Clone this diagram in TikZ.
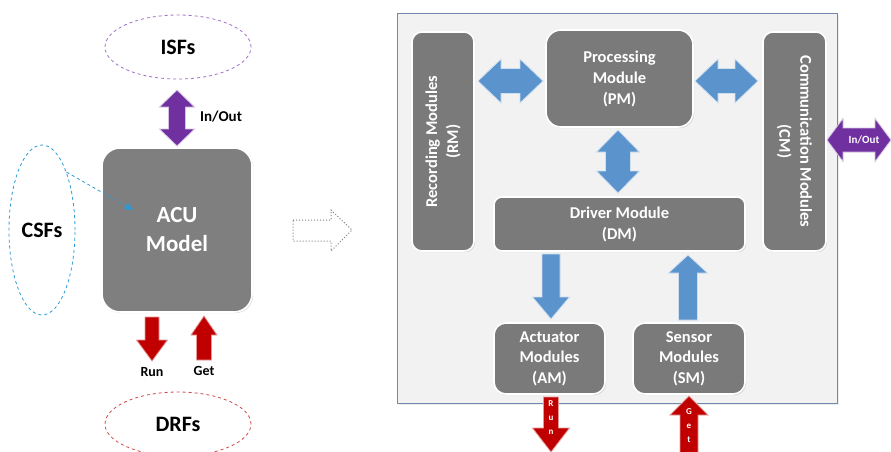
\documentclass[tikz,border=0pt]{standalone}
\usepackage{fontspec}
\setmainfont{Carlito}
\usetikzlibrary{shapes.geometric,arrows.meta,shadows}
\definecolor{boxgray}{HTML}{7A7A7A}
\definecolor{acugray}{HTML}{7F7F7F}
\definecolor{purp}{HTML}{7030A0}
\definecolor{purpline}{HTML}{A070C8}
\definecolor{bluearr}{HTML}{5B93CC}
\definecolor{bluedash}{HTML}{2E9BD6}
\definecolor{redarr}{HTML}{C00000}
\definecolor{reddash}{HTML}{D04848}
\definecolor{panelfill}{HTML}{F2F2F2}
\definecolor{panelline}{HTML}{7487AD}
\newcommand{\dblV}[7]{%
 \pgfmathsetmacro\Lq{#4-#3-2*#7}\pgfmathsetmacro\Dq{#6-#5}%
 \path[#1] (#2,#3) -- ++(#6,#7) -- ++(-\Dq,0) -- ++(0,\Lq) -- ++(\Dq,0) -- ++(-#6,#7) -- ++(-#6,-#7) -- ++(\Dq,0) -- ++(0,-\Lq) -- ++(-\Dq,0) -- cycle;}
\newcommand{\dblH}[7]{%
 \pgfmathsetmacro\Lq{#4-#3-2*#7}\pgfmathsetmacro\Dq{#6-#5}%
 \path[#1] (#3,#2) -- ++(#7,-#6) -- ++(0,\Dq) -- ++(\Lq,0) -- ++(0,-\Dq) -- ++(#7,#6) -- ++(-#7,#6) -- ++(0,-\Dq) -- ++(-\Lq,0) -- ++(0,\Dq) -- cycle;}
\newcommand{\sglDown}[7]{%
 \pgfmathsetmacro\Hq{#4-#7}%
 \path[#1] ({#2-#5},#3) -- ({#2+#5},#3) -- ({#2+#5},\Hq) -- ({#2+#6},\Hq) -- (#2,#4) -- ({#2-#6},\Hq) -- ({#2-#5},\Hq) -- cycle;}
\newcommand{\sglUp}[7]{%
 \pgfmathsetmacro\Hq{#3+#7}%
 \path[#1] ({#2-#5},#4) -- ({#2+#5},#4) -- ({#2+#5},\Hq) -- ({#2+#6},\Hq) -- (#2,#3) -- ({#2-#6},\Hq) -- ({#2-#5},\Hq) -- cycle;}
\tikzset{
  dashell/.style={ellipse, dashed, line width=0.8pt, inner sep=0pt, font=\bfseries\fontsize{22}{26}\selectfont},
  modbox/.style={rectangle, fill=boxgray, draw=white, line width=1.6pt, text=white, align=center,
     font=\bfseries\fontsize{16.5}{21}\selectfont, inner sep=0pt,
     drop shadow={opacity=0.25, shadow xshift=1.2pt, shadow yshift=-1.2pt}},
  bluearrow/.style={fill=bluearr, draw=white!70!bluearr, line width=0.8pt},
  purparrow/.style={fill=purp, draw=white!70!purp, line width=0.8pt},
  redarrow/.style={fill=redarr, draw=white!60!redarr, line width=0.8pt},
  lbl/.style={font=\bfseries\fontsize{14}{16}\selectfont, inner sep=0pt},
}
\begin{document}
\begin{tikzpicture}[x=1pt,y=-1pt]
\useasboundingbox (0,0) rectangle (891,451);
\fill[white] (0,0) rectangle (891,451);
% ---------------- left part ----------------
\node[dashell, draw=purpline, minimum width=146, minimum height=64] (isf) at (178,47) {ISFs};
\node[dashell, draw=bluedash, minimum width=66, minimum height=170] (csf) at (42,230) {CSFs};
\node[dashell, draw=reddash, minimum width=146, minimum height=64] (drf) at (178,424) {DRFs};
\node[modbox, fill=acugray, minimum width=150, minimum height=164, rounded corners=18,
      font=\bfseries\fontsize{23}{29}\selectfont] (acu) at (177,230) {ACU\\Model};
\dblV{purparrow}{177}{90}{146}{8.5}{17.5}{17}
\node[lbl, font=\bfseries\fontsize{15}{17}\selectfont] (io1) at (221,117) {In/Out};
\coordinate (acuin) at (133,210);
\draw[bluedash, dashed, line width=0.8pt, -{Triangle[length=8pt,width=7pt]}] (csf.67) -- (acuin);
\sglDown{redarrow}{152}{317}{361}{7}{15.5}{21}
\sglUp{redarrow}{204}{316}{360}{7.5}{13}{19}
\node[lbl] (run1) at (152,372) {Run};
\node[lbl] (get1) at (204,371) {Get};
% hollow arrow
\path[draw=gray, dotted, line width=1pt, fill=white] (293,220) -- (331,220) -- (331,210) -- (352,230) -- (331,251) -- (331,241) -- (293,241) -- cycle;
% ---------------- right part ----------------
\node[rectangle, fill=panelfill, draw=panelline, line width=1pt, minimum width=440, minimum height=390,
      drop shadow={opacity=0.15, shadow xshift=1.5pt, shadow yshift=-1.5pt}] (panel) at (617,208) {};
\node[modbox, minimum width=62, minimum height=219, rounded corners=10] (rm) at (443,141.5) {};
\node[rotate=90, text=white, align=center, font=\bfseries\fontsize{16.5}{21}\selectfont] (rmt) at (rm.center) {Recording Modules\\(RM)};
\node[modbox, minimum width=63, minimum height=219, rounded corners=10] (cm) at (794.5,141.5) {};
\node[rotate=-90, text=white, align=center, font=\bfseries\fontsize{16.5}{21}\selectfont] (cmt) at (cm.center) {Communication Modules\\(CM)};
\node[modbox, minimum width=147, minimum height=97, rounded corners=15] (pm) at (619.5,78.5) {Processing\\Module\\(PM)};
\node[modbox, minimum width=251, minimum height=54, rounded corners=8] (dm) at (619.5,224) {Driver Module\\(DM)};
\node[modbox, minimum width=111, minimum height=71, rounded corners=12, font=\bfseries\fontsize{16.5}{20.5}\selectfont] (am) at (549.5,358.5) {Actuator\\Modules\\(AM)};
\node[modbox, minimum width=112, minimum height=71, rounded corners=12, font=\bfseries\fontsize{16.5}{20.5}\selectfont] (sm) at (689,358.5) {Sensor\\Modules\\(SM)};
\dblH{bluearrow}{81}{478}{543}{12.5}{22}{23}
\dblH{bluearrow}{81}{695}{758}{12.5}{22}{23}
\dblV{bluearrow}{618}{130}{193}{12.5}{21.5}{22}
\sglDown{bluearrow}{551}{254}{319}{9}{18.5}{22}
\sglUp{bluearrow}{688}{255}{320}{9.5}{19.5}{18}
\dblH{purparrow}{140}{827}{891}{12}{21.5}{16}
\node[text=white, font=\bfseries\fontsize{11}{13}\selectfont, inner sep=0pt] (io2) at (864,140) {In/Out};
\sglDown{redarrow}{551}{397}{452}{7.5}{18.5}{24}
\sglUp{redarrow}{689}{396}{453}{9}{19}{19}
\node[text=white, align=center, font=\bfseries\fontsize{9}{14}\selectfont, inner sep=0pt] (run2) at (551,418) {R\\u\\n};
\node[text=white, align=center, font=\bfseries\fontsize{9}{14}\selectfont, inner sep=0pt] (get2) at (689,426) {G\\e\\t};
\end{tikzpicture}
\end{document}
